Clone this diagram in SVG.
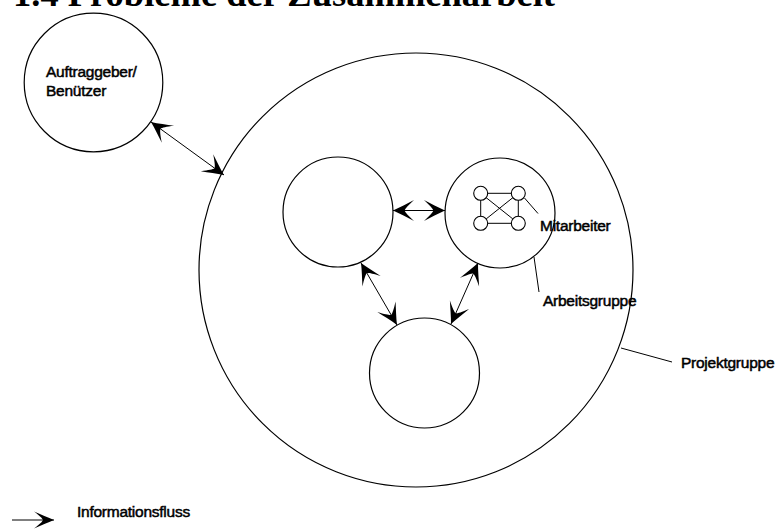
<svg xmlns="http://www.w3.org/2000/svg" width="779" height="530" viewBox="0 0 779 530">
<style>
.c{fill:none;stroke:#000;stroke-width:1.2}
.cw{fill:#fff;stroke:#000;stroke-width:1.1}
.l{fill:none;stroke:#000;stroke-width:1}
.a{fill:none;stroke:#000;stroke-width:1;marker-start:url(#ah);marker-end:url(#ah)}
.t{font-family:"Liberation Sans",Arial,Helvetica,sans-serif;font-size:15.5px;fill:#000;stroke:#000;stroke-width:0.5;letter-spacing:-0.25px}
.title{font-family:"Liberation Serif","Times New Roman",serif;font-size:36.5px;font-weight:bold;fill:#000}
</style>
<defs>
<marker id="ah" viewBox="-22 -11 23 22" refX="0" refY="0" markerWidth="23" markerHeight="22" markerUnits="userSpaceOnUse" orient="auto-start-reverse" overflow="visible">
<path d="M0,0 C-7,-3 -14,-7 -21,-10.5 C-15,-5 -12.5,-2 -11.5,0 C-12.5,2 -15,5 -21,10.5 C-14,7 -7,3 0,0 Z" fill="#000"/>
</marker>
<marker id="ah2" viewBox="-22 -11 23 22" refX="0" refY="0" markerWidth="23" markerHeight="22" markerUnits="userSpaceOnUse" orient="auto" overflow="visible">
<path d="M0,0 C-6,-2.5 -13,-5.5 -20,-8.5 C-14,-4 -12,-2 -11,0 C-12,2 -14,4 -20,8.5 C-13,5.5 -6,2.5 0,0 Z" fill="#000"/>
</marker>
</defs>
<text class="title" x="13" y="6">1.4 Probleme der Zusammenarbeit</text>
<g id="projektgruppe">
<circle class="c" cx="416" cy="270" r="217"/>
<line class="l" x1="621" y1="348" x2="672" y2="362"/>
<text class="t" x="681" y="368">Projektgruppe</text>
</g>
<g id="auftraggeber">
<circle class="c" cx="93.5" cy="82.5" r="69.3"/>
<text class="t" x="46" y="77">Auftraggeber/</text>
<text class="t" x="46" y="96">Benützer</text>
</g>
<g id="gruppe-links">
<circle class="c" cx="338" cy="212" r="55"/>
</g>
<g id="arbeitsgruppe">
<circle class="c" cx="500" cy="213" r="55"/>
<line class="l" x1="534" y1="257" x2="539" y2="292"/>
<text class="t" x="543" y="306">Arbeitsgruppe</text>
</g>
<g id="gruppe-unten">
<circle class="c" cx="424.5" cy="373" r="55"/>
</g>
<g id="mitarbeiter">
<line class="l" x1="480.7" y1="193.3" x2="518.3" y2="193.3"/>
<line class="l" x1="480.7" y1="223.3" x2="518.3" y2="223.3"/>
<line class="l" x1="480.7" y1="193.3" x2="480.7" y2="223.3"/>
<line class="l" x1="518.3" y1="193.3" x2="518.3" y2="223.3"/>
<line class="l" x1="480.7" y1="193.3" x2="518.3" y2="223.3"/>
<line class="l" x1="518.3" y1="193.3" x2="480.7" y2="223.3"/>
<circle class="cw" cx="480.7" cy="193.3" r="7"/>
<circle class="cw" cx="518.3" cy="193.3" r="7"/>
<circle class="cw" cx="480.7" cy="223.3" r="7"/>
<circle class="cw" cx="518.3" cy="223.3" r="7"/>
<line class="l" x1="524.5" y1="198" x2="538" y2="213.5"/>
<text class="t" x="540" y="231">Mitarbeiter</text>
</g>
<g id="connectors">
<line class="a" x1="151" y1="122" x2="224" y2="175"/>
<line class="a" x1="393" y1="210.5" x2="445" y2="210.5"/>
<line class="a" x1="361" y1="263" x2="397" y2="325"/>
<line class="a" x1="478" y1="263" x2="451" y2="324"/>
</g>
<g id="legende">
<line class="l" x1="12" y1="520" x2="54" y2="520" style="marker-end:url(#ah2)"/>
<text class="t" x="77" y="517">Informationsfluss</text>
</g>
</svg>
